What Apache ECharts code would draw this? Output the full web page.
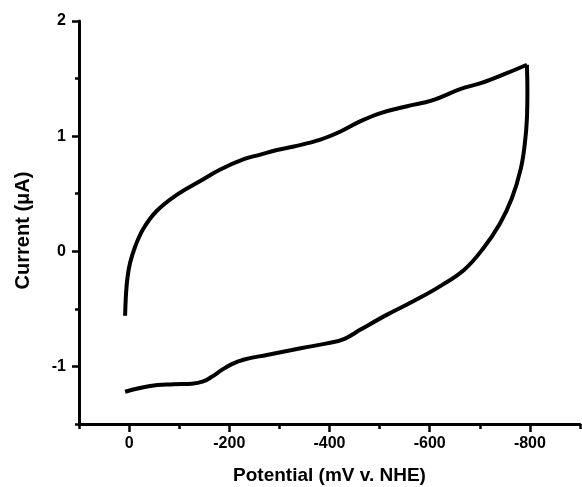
<!DOCTYPE html>
<html>
<head>
<meta charset="utf-8">
<script src="https://cdn.jsdelivr.net/npm/echarts@6/dist/echarts.min.js"></script>
<style>
  html, body { margin: 0; padding: 0; background: #fff; }
  #main { width: 582px; height: 487px; }
</style>
</head>
<body>
<div id="main"></div>
<script>
// forward sweep (upper branch), [potential mV, current uA]
var forwardSweep = [
  [8, -0.56], [6, -0.36], [3, -0.22], [-2, -0.10], [-12, 0.04], [-29, 0.20], [-55, 0.35],
  [-95, 0.49], [-142, 0.61], [-182, 0.71], [-229, 0.80], [-262, 0.84], [-295, 0.88],
  [-329, 0.91], [-382, 0.97], [-422, 1.04], [-462, 1.13], [-502, 1.20], [-555, 1.26],
  [-605, 1.31], [-662, 1.41], [-702, 1.46], [-750, 1.54], [-794, 1.62]
];
// reverse sweep (lower branch)
var reverseSweep = [
  [-794, 1.62], [-795, 1.40], [-794, 1.15], [-790, 0.94], [-782, 0.72], [-764, 0.46],
  [-740, 0.24], [-706, 0.02], [-669, -0.16], [-622, -0.30], [-569, -0.43], [-515, -0.55],
  [-462, -0.68], [-430, -0.76], [-395, -0.80], [-345, -0.84], [-275, -0.90], [-230, -0.94],
  [-205, -0.98], [-185, -1.03], [-165, -1.09], [-148, -1.13], [-125, -1.15], [-89, -1.155],
  [-42, -1.17], [8, -1.22]
];
var xMajorTicks = [0, -200, -400, -600, -800];
var xMinorTicks = [100, -100, -300, -500, -700, -900];
var yMajorTicks = [-1, 0, 1, 2];
var yMinorTicks = [-1.5, -0.5, 0.5, 1.5];

var font = 'Liberation Sans, Arial, sans-serif';
var chart = echarts.init(document.getElementById('main'));

var lineCommon = { show: true, onZero: false, lineStyle: { color: '#000', width: 3 } };

chart.setOption({
  animation: false,
  backgroundColor: '#fff',
  grid: { left: 79, right: 2, top: 21, bottom: 63, outerBoundsMode: 'none' },
  xAxis: [
    {
      type: 'value',
      min: -900,
      max: 100,
      inverse: true,
      name: 'Potential (mV v. NHE)',
      nameLocation: 'middle',
      nameGap: 42,
      nameTextStyle: { color: '#000', fontFamily: font, fontWeight: 'bold', fontSize: 19 },
      axisLine: lineCommon,
      axisTick: { show: true, customValues: xMajorTicks, length: 8, lineStyle: { color: '#000', width: 2.5 } },
      axisLabel: { customValues: xMajorTicks, margin: 12, color: '#000', fontFamily: font, fontWeight: 'bold', fontSize: 16 },
      splitLine: { show: false }
    },
    {
      type: 'value',
      min: -900,
      max: 100,
      inverse: true,
      position: 'bottom',
      axisLine: { show: false, onZero: false },
      axisTick: { show: true, customValues: xMinorTicks, length: 5, lineStyle: { color: '#000', width: 2.5 } },
      axisLabel: { show: false },
      splitLine: { show: false }
    }
  ],
  yAxis: [
    {
      type: 'value',
      min: -1.5,
      max: 2,
      name: 'Current (μA)',
      nameLocation: 'middle',
      nameGap: 46,
      nameTextStyle: { color: '#000', fontFamily: font, fontWeight: 'bold', fontSize: 20, padding: [0, 16, 0, 0] },
      axisLine: lineCommon,
      axisTick: { show: true, customValues: yMajorTicks, length: 7, lineStyle: { color: '#000', width: 2.5 } },
      axisLabel: { customValues: yMajorTicks, margin: 13, color: '#000', fontFamily: font, fontWeight: 'bold', fontSize: 16 },
      splitLine: { show: false }
    },
    {
      type: 'value',
      min: -1.5,
      max: 2,
      position: 'left',
      axisLine: { show: false, onZero: false },
      axisTick: { show: true, customValues: yMinorTicks, length: 4, lineStyle: { color: '#000', width: 2.5 } },
      axisLabel: { show: false },
      splitLine: { show: false }
    }
  ],
  series: [
    {
      name: 'forward',
      type: 'line',
      data: forwardSweep,
      showSymbol: false,
      smooth: 0.4,
      lineStyle: { color: '#000', width: 4 }
    },
    {
      name: 'reverse',
      type: 'line',
      data: reverseSweep,
      showSymbol: false,
      smooth: 0.4,
      lineStyle: { color: '#000', width: 4 }
    }
  ]
});
</script>
</body>
</html>
